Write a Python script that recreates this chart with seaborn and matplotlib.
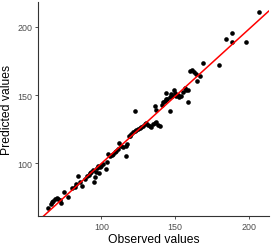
import matplotlib
matplotlib.use("Agg")
import matplotlib.pyplot as plt
import seaborn as sns
import pandas as pd

observed = [64.0, 65.5, 66.2, 67.3, 68.5, 69.6, 70.7, 71.9, 72.5, 74.6,
            77.5, 79.7, 82.0, 82.7, 84.2, 86.5, 85.4, 88.7, 90.3, 91.7,
            92.1, 93.2, 94.4, 95.0, 95.5, 96.2, 97.1, 97.7, 98.4, 98.9,
            100.0, 101.1, 102.9, 103.8, 104.5, 105.6, 106.8, 107.9, 109.0, 110.1,
            111.3, 111.9, 113.5, 114.6, 116.4, 116.9, 117.6, 118.7, 119.1, 120.3,
            121.4, 122.5, 123.6, 124.8, 125.9, 127.0, 128.1, 129.3, 130.4, 131.5,
            132.7, 133.8, 134.9, 136.0, 137.2, 138.3, 139.4, 122.7, 136.2, 137.2,
            140.8, 141.7, 142.8, 143.5, 143.9, 144.4, 146.2, 146.2, 147.3, 148.0,
            148.9, 149.9, 150.6, 151.7, 152.8, 153.9, 155.2, 156.3, 157.4, 158.5,
            159.0, 160.1, 161.5, 162.6, 164.2, 165.1, 167.1, 168.5, 179.9, 184.4,
            188.4, 188.8, 198.2, 206.5]
predicted = [67.7, 70.2, 71.4, 72.6, 73.8, 74.6, 74.3, 73.1, 70.9, 79.2,
             75.5, 81.9, 82.4, 84.8, 90.5, 83.6, 86.6, 88.5, 91.0, 91.4,
             92.9, 93.4, 95.4, 86.1, 89.7, 93.4, 96.3, 98.3, 92.9, 97.1,
             98.3, 99.5, 95.8, 100.7, 106.8, 105.6, 106.4, 106.8, 108.1, 109.3,
             110.5, 114.9, 113.0, 111.7, 105.6, 113.0, 114.2, 120.3, 119.8, 121.5,
             122.7, 124.0, 124.7, 125.2, 125.7, 126.4, 127.6, 128.9, 129.6, 128.1,
             127.6, 126.4, 128.9, 129.6, 130.1, 128.1, 127.1, 138.2, 142.3, 139.1,
             142.8, 144.7, 146.0, 147.2, 151.6, 147.2, 148.4, 138.6, 150.9, 149.6,
             154.0, 151.6, 149.6, 150.4, 148.4, 149.6, 152.1, 155.0, 154.0, 144.7,
             154.0, 168.0, 168.7, 166.7, 165.5, 160.6, 163.8, 173.4, 172.1, 191.2,
             195.6, 188.8, 188.8, 211.3]

x_ticks = [100, 150, 200]
y_ticks = [100, 150, 200]

df = pd.DataFrame({"Observed values": observed, "Predicted values": predicted})

sns.set_theme(style="ticks")
plt.rcParams["font.family"] = ["Liberation Sans", "DejaVu Sans"]

fig = plt.figure(figsize=(2.72, 2.51), dpi=100)
ax = fig.add_axes([0.14, 0.135, 0.849, 0.853])

sns.regplot(data=df, x="Observed values", y="Predicted values", ax=ax,
            ci=None, truncate=False,
            scatter_kws=dict(s=11, color="black", linewidths=0, alpha=1),
            line_kws=dict(color="#ff0000", linewidth=1.1))

ax.set_xlim(57, 213.6)
ax.set_ylim(61.4, 218.3)
ax.set_xticks(x_ticks)
ax.set_yticks(y_ticks)
ax.tick_params(axis="both", labelsize=6.4, labelcolor="#4d4d4d", color="#333333",
               length=2.5, width=0.6, pad=1.5)
for side in ["top", "right"]:
    ax.spines[side].set_visible(False)
for side in ["left", "bottom"]:
    ax.spines[side].set_color("#333333")
    ax.spines[side].set_linewidth(0.8)
ax.set_xlabel("Observed values", fontsize=8.7, color="black", labelpad=2)
ax.set_ylabel("Predicted values", fontsize=8.7, color="black", labelpad=3)

fig.savefig("out.png", dpi=100)
